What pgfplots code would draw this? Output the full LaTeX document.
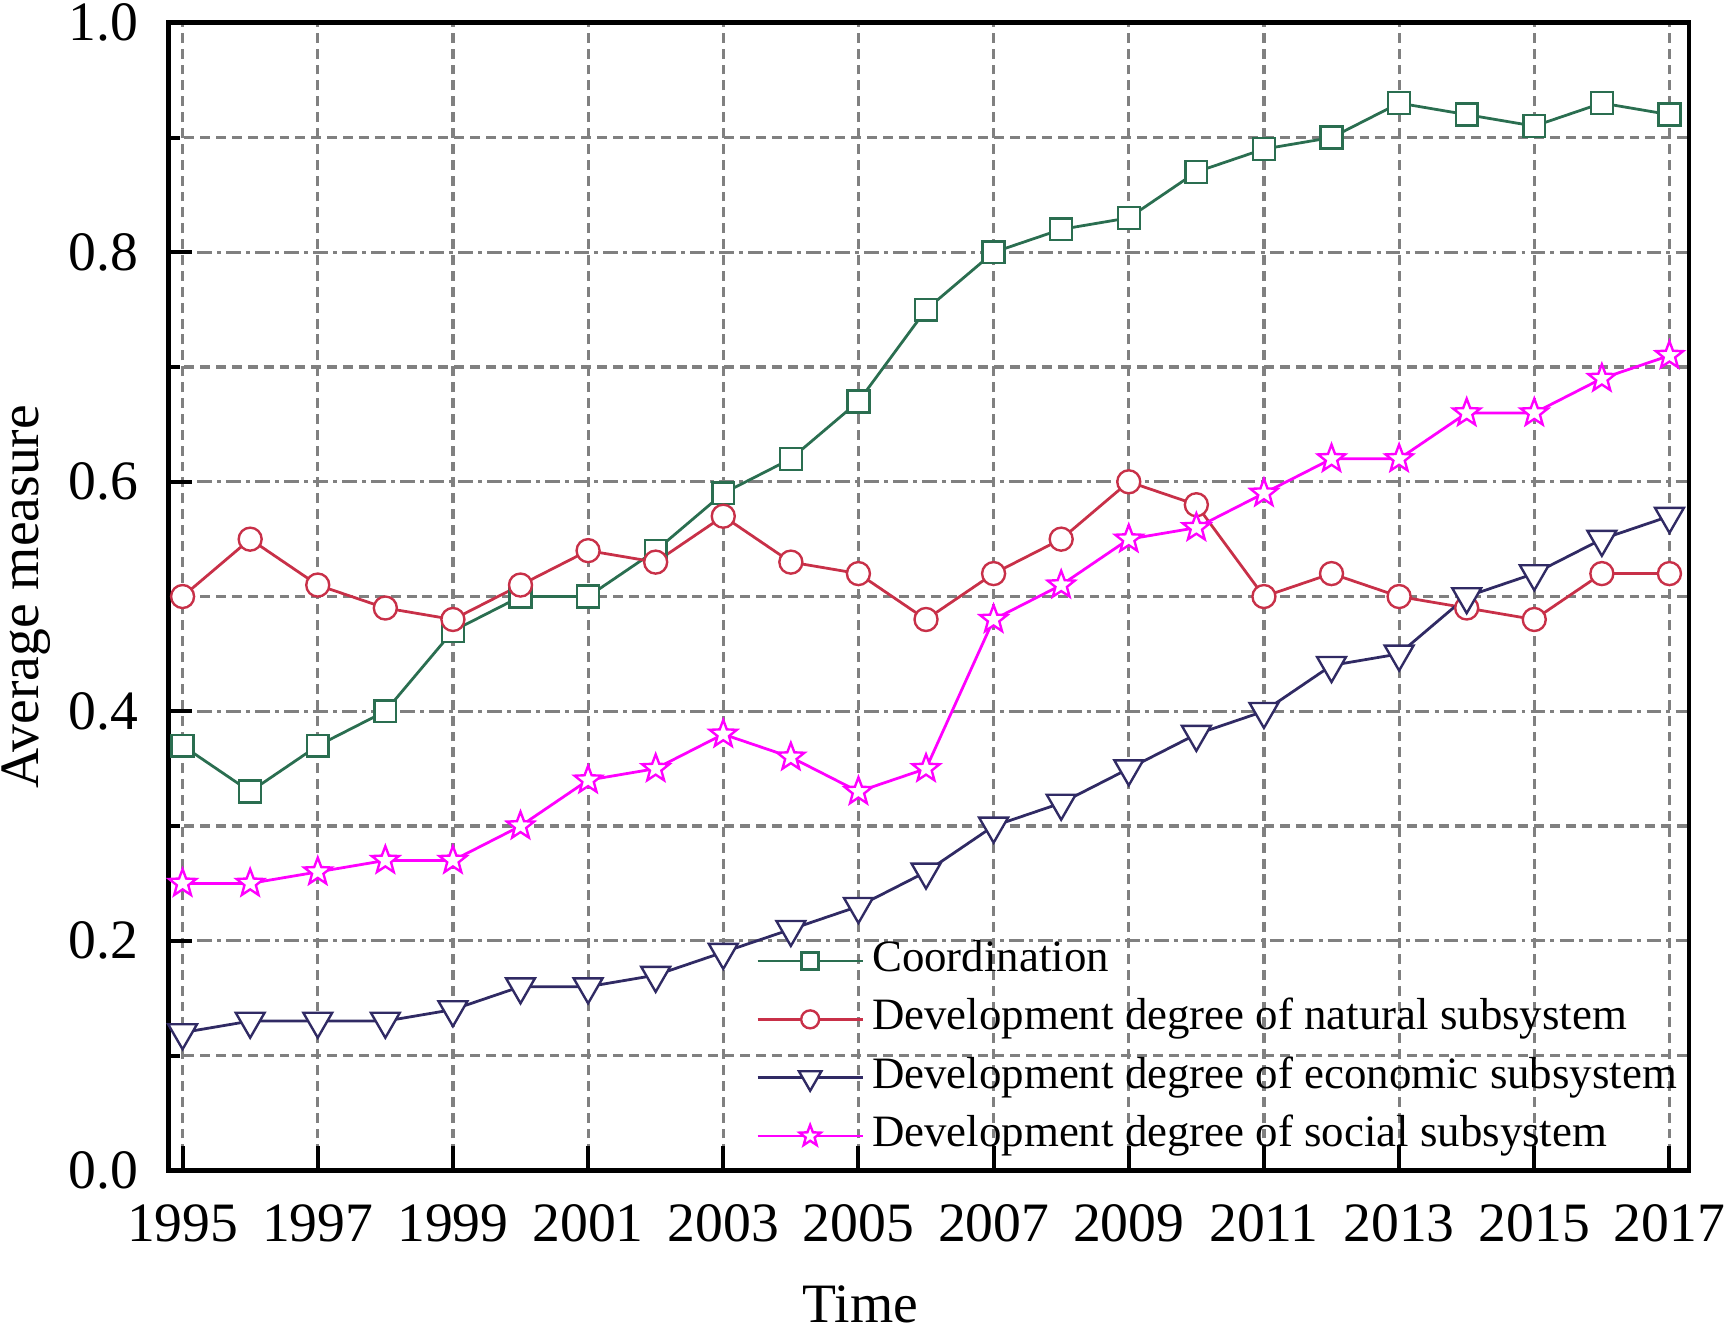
\documentclass[border=0pt]{standalone}
\usepackage{fontspec}
\setmainfont{Liberation Serif}
\usepackage{pgfplots}
\pgfplotsset{compat=1.18}
\definecolor{cgreen}{RGB}{42,110,80}
\definecolor{cred}{RGB}{200,48,72}
\definecolor{cnavy}{RGB}{48,42,100}
\definecolor{cmag}{RGB}{255,0,255}
\definecolor{cgrid}{RGB}{128,128,128}
\pgfdeclareplotmark{ostar}{%
  \pgfpathmoveto{\pgfpointpolar{90}{\pgfplotmarksize}}%
  \pgfpathlineto{\pgfpointpolar{126}{0.42\pgfplotmarksize}}%
  \pgfpathlineto{\pgfpointpolar{162}{\pgfplotmarksize}}%
  \pgfpathlineto{\pgfpointpolar{198}{0.42\pgfplotmarksize}}%
  \pgfpathlineto{\pgfpointpolar{234}{\pgfplotmarksize}}%
  \pgfpathlineto{\pgfpointpolar{270}{0.42\pgfplotmarksize}}%
  \pgfpathlineto{\pgfpointpolar{306}{\pgfplotmarksize}}%
  \pgfpathlineto{\pgfpointpolar{342}{0.42\pgfplotmarksize}}%
  \pgfpathlineto{\pgfpointpolar{18}{\pgfplotmarksize}}%
  \pgfpathlineto{\pgfpointpolar{54}{0.42\pgfplotmarksize}}%
  \pgfpathclose
  \pgfusepathqfillstroke}
\begin{document}
\begin{tikzpicture}[font=\fontsize{14}{17}\selectfont]
\begin{axis}[
  scale only axis, width=383pt, height=289pt,
  xmin=1994.79, xmax=2017.29, ymin=0, ymax=1,
  xtick={1995,1997,...,2017},
  ytick={0,0.2,0.4,0.6,0.8,1.0}, minor y tick num=1,
  tick align=inside, xtick pos=bottom, ytick pos=left,
  major tick length=6pt, minor tick length=3pt,
  every tick/.style={black, line width=1pt},
  axis line style={line width=1.2pt},
  xmajorgrids, ymajorgrids, yminorgrids,
  major x grid style={cgrid, line width=0.8pt, dash pattern=on 2.5pt off 1.5pt},
  minor y grid style={cgrid, line width=0.8pt, dash pattern=on 2.5pt off 1.5pt},
  major y grid style={cgrid, line width=0.8pt, dash pattern=on 3.7pt off 1.3pt on 1pt off 1.3pt},
  /pgf/number format/assume math mode=true,
  xticklabel style={/pgf/number format/1000 sep={}, inner sep=1pt, yshift=-7.4pt},
  yticklabel style={/pgf/number format/fixed, /pgf/number format/fixed zerofill, /pgf/number format/precision=1, inner sep=1pt, xshift=-6.5pt},
  xlabel={Time}, ylabel={Average measure},
  xlabel style={inner sep=2.2pt, at={(ticklabel cs:0.455,7.55pt)}, anchor=north},
  ylabel style={inner sep=0.5pt, at={(ticklabel cs:0.5,2.75pt)}},
  legend cell align=left,
  legend style={draw=none, fill=none, inner sep=0pt, at={(rel axis cs:0.386,0.2085)}, anchor=north west, font=\fontsize{11.3}{14}\selectfont, row sep=0pt, nodes={inner xsep=2pt, inner ysep=0pt, text height=10pt, text depth=4.7pt}},
  legend image code/.code={\draw[mark repeat=2, mark phase=2, every mark/.append style={scale=0.78}] plot coordinates {(0pt,0pt)(13.25pt,0pt)(26.5pt,0pt)};},
]
\addplot[cgreen, line width=0.7pt, mark=square*, mark size=2.75pt, mark options={fill=white, draw=cgreen, line width=0.6pt}] coordinates {
(1995,0.37)(1996,0.33)(1997,0.37)(1998,0.40)(1999,0.47)(2000,0.50)(2001,0.50)(2002,0.54)(2003,0.59)(2004,0.62)(2005,0.67)(2006,0.75)(2007,0.80)(2008,0.82)(2009,0.83)(2010,0.87)(2011,0.89)(2012,0.90)(2013,0.93)(2014,0.92)(2015,0.91)(2016,0.93)(2017,0.92)};
\addlegendentry{Coordination}
\addplot[cred, line width=0.7pt, mark=*, mark size=2.9pt, mark options={fill=white, draw=cred, line width=0.6pt}] coordinates {
(1995,0.50)(1996,0.55)(1997,0.51)(1998,0.49)(1999,0.48)(2000,0.51)(2001,0.54)(2002,0.53)(2003,0.57)(2004,0.53)(2005,0.52)(2006,0.48)(2007,0.52)(2008,0.55)(2009,0.60)(2010,0.58)(2011,0.50)(2012,0.52)(2013,0.50)(2014,0.49)(2015,0.48)(2016,0.52)(2017,0.52)};
\addlegendentry{Development degree of natural subsystem}
\addplot[cnavy, line width=0.7pt, mark=triangle*, mark size=4.2pt, mark options={fill=white, draw=cnavy, line width=0.6pt, rotate=180}] coordinates {
(1995,0.12)(1996,0.13)(1997,0.13)(1998,0.13)(1999,0.14)(2000,0.16)(2001,0.16)(2002,0.17)(2003,0.19)(2004,0.21)(2005,0.23)(2006,0.26)(2007,0.30)(2008,0.32)(2009,0.35)(2010,0.38)(2011,0.40)(2012,0.44)(2013,0.45)(2014,0.50)(2015,0.52)(2016,0.55)(2017,0.57)};
\addlegendentry{Development degree of economic subsystem}
\addplot[cmag, line width=0.7pt, mark=ostar, mark size=3.6pt, mark options={fill=white, draw=cmag, line width=0.6pt}] coordinates {
(1995,0.25)(1996,0.25)(1997,0.26)(1998,0.27)(1999,0.27)(2000,0.30)(2001,0.34)(2002,0.35)(2003,0.38)(2004,0.36)(2005,0.33)(2006,0.35)(2007,0.48)(2008,0.51)(2009,0.55)(2010,0.56)(2011,0.59)(2012,0.62)(2013,0.62)(2014,0.66)(2015,0.66)(2016,0.69)(2017,0.71)};
\addlegendentry{Development degree of social subsystem}
\end{axis}
\end{tikzpicture}
\end{document}
